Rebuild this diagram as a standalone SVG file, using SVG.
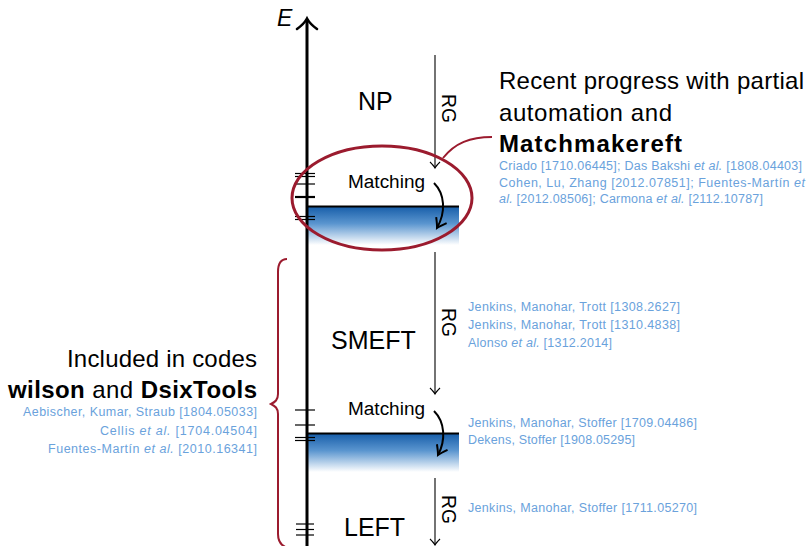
<svg xmlns="http://www.w3.org/2000/svg" width="810" height="546" viewBox="0 0 810 546">
  <defs>
    <linearGradient id="bandFade" x1="0" y1="0" x2="0" y2="1">
      <stop offset="0" stop-color="#155ca8"/>
      <stop offset="0.45" stop-color="#5a95cf"/>
      <stop offset="1" stop-color="#ffffff"/>
    </linearGradient>
    <marker id="rgHead" markerUnits="userSpaceOnUse" markerWidth="16" markerHeight="16" refX="0" refY="0" viewBox="-8 -8 16 16" orient="auto" overflow="visible">
      <path d="M -6 -5 Q -2 -1 0 0 Q -2 1 -6 5" fill="none" stroke="#000" stroke-width="1.1"/>
    </marker>
    <marker id="matchHead" markerUnits="userSpaceOnUse" markerWidth="20" markerHeight="20" refX="0" refY="0" viewBox="-10 -10 20 20" orient="auto" overflow="visible">
      <path d="M -9 -6 Q -3 -1.5 0 0 Q -3 1.5 -9 6" fill="none" stroke="#000" stroke-width="2"/>
    </marker>
    <style>
      .label { font-family: "Liberation Sans", "DejaVu Sans", sans-serif; fill: #000; }
      .big { font-size: 25px; }
      .mid { font-size: 18px; }
      .rg { font-size: 20.5px; }
      .note { font-size: 24px; }
      .cite { font-family: "Liberation Sans", "DejaVu Sans", sans-serif; font-size: 12.5px; fill: #6aa2dc; }
      .it { font-style: italic; }
      .bold { font-weight: bold; }
      .tick { stroke: #000; stroke-width: 1.2; }
      .tickThick { stroke: #000; stroke-width: 2.2; }
      .rgLine { stroke: #000; stroke-width: 1.1; fill: none; marker-end: url(#rgHead); }
      .matchArrow { stroke: #000; stroke-width: 2; fill: none; marker-end: url(#matchHead); }
      .accent { stroke: #9b1b2e; fill: none; }
    </style>
  </defs>

  <rect width="810" height="546" fill="#ffffff"/>

  <!-- scale bands (matching thresholds) -->
  <g id="band-upper">
    <rect x="307" y="206" width="152" height="39" fill="url(#bandFade)"/>
    <line x1="307" y1="206.5" x2="459" y2="206.5" stroke="#000" stroke-width="2"/>
  </g>
  <g id="band-lower">
    <rect x="307" y="433" width="152" height="39" fill="url(#bandFade)"/>
    <line x1="307" y1="433.5" x2="459" y2="433.5" stroke="#000" stroke-width="2"/>
  </g>

  <!-- energy axis with mass ticks -->
  <g id="energy-axis">
    <line x1="307" y1="546" x2="307" y2="20" stroke="#000" stroke-width="3"/>
    <path d="M 297 29 Q 304 24 307 18.5 Q 310 24 317 29" fill="none" stroke="#000" stroke-width="2.6" stroke-linecap="round"/>
    <text class="label it" x="277" y="26" font-size="23">E</text>
    <line class="tick" x1="295" y1="173.5" x2="315" y2="173.5"/>
    <line class="tick" x1="295" y1="176.5" x2="315" y2="176.5"/>
    <line class="tick" x1="295" y1="184" x2="315" y2="184"/>
    <line class="tickThick" x1="295" y1="197" x2="315" y2="197"/>
    <line class="tick" x1="295" y1="216.5" x2="315" y2="216.5"/>
    <line class="tick" x1="295" y1="219.5" x2="315" y2="219.5"/>
    <line class="tick" x1="295" y1="410" x2="315" y2="410"/>
    <line class="tick" x1="295" y1="425" x2="315" y2="425"/>
    <line class="tick" x1="295" y1="437.5" x2="315" y2="437.5"/>
    <line class="tick" x1="295" y1="440.5" x2="315" y2="440.5"/>
    <line class="tick" x1="296" y1="524" x2="314" y2="524"/>
    <line class="tick" x1="296" y1="529.5" x2="314" y2="529.5"/>
    <line class="tick" x1="296" y1="535" x2="314" y2="535"/>
  </g>

  <!-- theory regions -->
  <g id="node-np">
    <text class="label big" x="358" y="110">NP</text>
  </g>
  <g id="node-smeft">
    <text class="label big" x="331" y="349">SMEFT</text>
  </g>
  <g id="node-left">
    <text class="label big" x="344" y="536">LEFT</text>
  </g>
  <g id="node-matching-upper">
    <text class="label mid" x="348" y="188" textLength="77" lengthAdjust="spacingAndGlyphs">Matching</text>
  </g>
  <g id="node-matching-lower">
    <text class="label mid" x="348" y="415" textLength="77" lengthAdjust="spacingAndGlyphs">Matching</text>
  </g>

  <!-- running and matching steps -->
  <g id="connectors">
    <line class="rgLine" x1="435" y1="55" x2="435" y2="168"/>
    <line class="rgLine" x1="435" y1="252" x2="435" y2="394"/>
    <line class="rgLine" x1="435" y1="478" x2="435" y2="545"/>
    <path class="matchArrow" d="M 434 183 C 445 194, 446 212, 437 228"/>
    <path class="matchArrow" d="M 434 411 C 445 422, 446 440, 438 455"/>
  </g>
  <g id="rg-labels">
    <text class="label rg" transform="translate(442 94) rotate(90)" textLength="29" lengthAdjust="spacingAndGlyphs">RG</text>
    <text class="label rg" transform="translate(442 308) rotate(90)" textLength="29" lengthAdjust="spacingAndGlyphs">RG</text>
    <text class="label rg" transform="translate(442 495) rotate(90)" textLength="29" lengthAdjust="spacingAndGlyphs">RG</text>
  </g>

  <!-- automation note for the NP matching -->
  <g id="note-matchmakereft">
    <ellipse class="accent" cx="382" cy="198" rx="90" ry="52" stroke-width="3"/>
    <path class="accent" d="M 443 158 C 455 143, 470 137, 492 137" stroke-width="2"/>
    <text class="label note" x="499" y="89" textLength="305">Recent progress with partial</text>
    <text class="label note" x="499" y="121" textLength="173">automation and</text>
    <text class="label note bold" x="499" y="152" font-size="25" textLength="183">Matchmakereft</text>
    <text class="cite" x="499" y="170" textLength="303">Criado [1710.06445]; Das Bakshi <tspan class="it">et al.</tspan> [1808.04403]</text>
    <text class="cite" x="499" y="187" textLength="306">Cohen, Lu, Zhang [2012.07851]; Fuentes-Martín <tspan class="it">et</tspan></text>
    <text class="cite" x="499" y="203" textLength="264"><tspan class="it">al.</tspan> [2012.08506]; Carmona <tspan class="it">et al.</tspan> [2112.10787]</text>
  </g>

  <!-- SMEFT / LEFT references -->
  <g id="refs-smeft">
    <text class="cite" x="468" y="311" textLength="212">Jenkins, Manohar, Trott [1308.2627]</text>
    <text class="cite" x="468" y="329" textLength="212">Jenkins, Manohar, Trott [1310.4838]</text>
    <text class="cite" x="468" y="347" textLength="144">Alonso <tspan class="it">et al.</tspan> [1312.2014]</text>
  </g>
  <g id="refs-matching">
    <text class="cite" x="468" y="427" textLength="229">Jenkins, Manohar, Stoffer [1709.04486]</text>
    <text class="cite" x="468" y="444" textLength="167">Dekens, Stoffer [1908.05295]</text>
  </g>
  <g id="refs-left">
    <text class="cite" x="468" y="512" textLength="229">Jenkins, Manohar, Stoffer [1711.05270]</text>
  </g>

  <!-- codes covering SMEFT and LEFT -->
  <g id="note-codes">
    <path class="accent" d="M 287 259 C 281 259, 278 263, 278 272 L 278 394 C 278 400, 275 402, 271 404 C 275 406, 278 408, 278 414 L 278 534 C 278 542, 281 546, 288 548" stroke-width="2"/>
    <text class="label note" x="257" y="367" text-anchor="end" textLength="190">Included in codes</text>
    <text class="label note" x="257" y="398" text-anchor="end" textLength="249"><tspan class="bold">wilson</tspan> and <tspan class="bold">DsixTools</tspan></text>
    <text class="cite" x="257" y="416" text-anchor="end" textLength="234">Aebischer, Kumar, Straub [1804.05033]</text>
    <text class="cite" x="257" y="435" text-anchor="end" textLength="157">Cellis <tspan class="it">et al.</tspan> [1704.04504]</text>
    <text class="cite" x="257" y="453" text-anchor="end" textLength="209">Fuentes-Martín <tspan class="it">et al.</tspan> [2010.16341]</text>
  </g>
</svg>
